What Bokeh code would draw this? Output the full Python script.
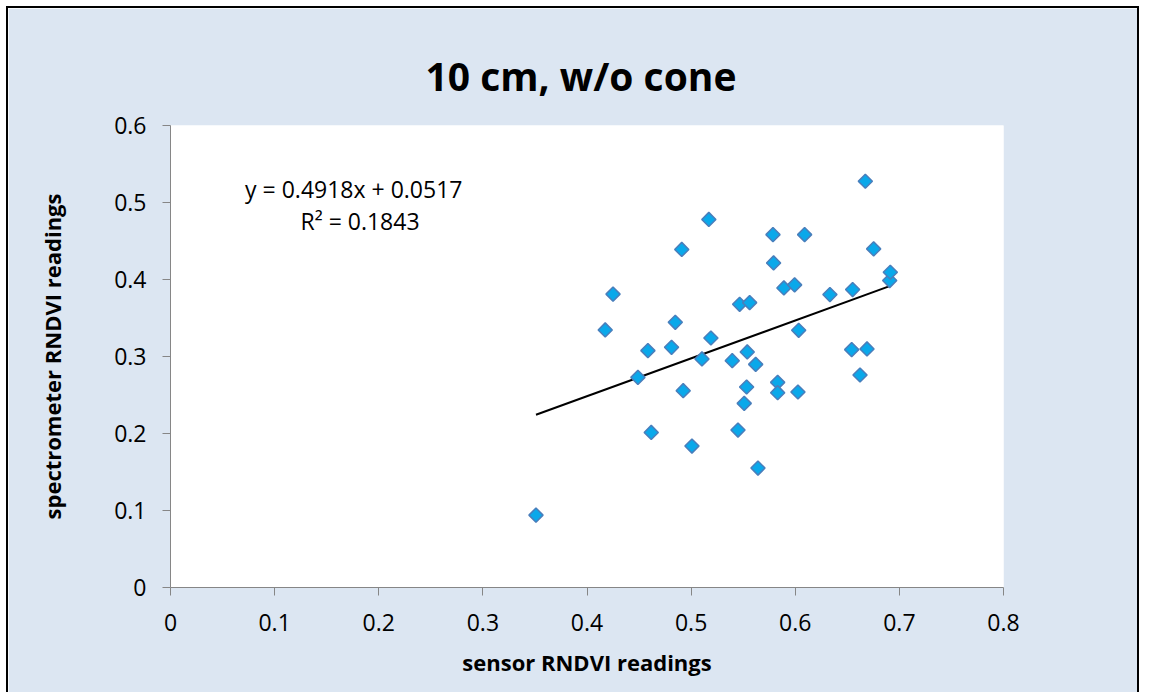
import numpy as np
from bokeh.plotting import figure
from bokeh.models import Range1d, FixedTicker, Label, ColumnDataSource
from bokeh.embed import file_html
from bokeh.resources import INLINE

# ---- data ----
sensor = [0.351, 0.4175, 0.425, 0.4489, 0.4585, 0.4617, 0.4812, 0.4848, 0.491, 0.4924,
          0.5008, 0.5104, 0.517, 0.519, 0.5395, 0.545, 0.5466, 0.551, 0.5533, 0.5539,
          0.5562, 0.562, 0.5642, 0.5786, 0.5792, 0.5831, 0.5831, 0.5891, 0.5994, 0.6026,
          0.6033, 0.609, 0.6333, 0.6542, 0.6551, 0.6622, 0.6673, 0.6689, 0.6753, 0.6907,
          0.6913]
spectrometer = [0.094, 0.3345, 0.381, 0.2729, 0.3076, 0.2014, 0.3119, 0.3444, 0.439, 0.2556,
                0.1837, 0.2968, 0.478, 0.324, 0.2946, 0.2045, 0.3678, 0.2391, 0.2604, 0.3059,
                0.370, 0.2898, 0.1551, 0.4583, 0.4215, 0.2664, 0.253, 0.389, 0.393, 0.2539,
                0.334, 0.4583, 0.3804, 0.3089, 0.3869, 0.276, 0.5276, 0.3098, 0.4398, 0.3986,
                0.4094]

slope = 0.4918
intercept = 0.0517
r_squared = 0.1843

x_ticks = [0, 0.1, 0.2, 0.3, 0.4, 0.5, 0.6, 0.7, 0.8]
x_tick_labels = ["0", "0.1", "0.2", "0.3", "0.4", "0.5", "0.6", "0.7", "0.8"]
y_ticks = [0, 0.1, 0.2, 0.3, 0.4, 0.5, 0.6]
y_tick_labels = ["0", "0.1", "0.2", "0.3", "0.4", "0.5", "0.6"]

title_text = "10 cm, w/o cone"
x_label = "sensor RNDVI readings"
y_label = "spectrometer RNDVI readings"
eq_text = "y = 0.4918x + 0.0517"
r2_text = "R\u00b2 = 0.1843"

FONT = "Open Sans"
AXIS_COLOR = "#868686"

p = figure(width=1133, height=686,
           x_range=Range1d(0, 0.8), y_range=Range1d(0, 0.6),
           output_backend="svg", toolbar_location=None,
           min_border_left=162, min_border_right=138,
           min_border_top=117, min_border_bottom=107,
           background_fill_color="white", border_fill_color="#DCE6F2",
           outline_line_color=None,
           styles={"border-top": "2px solid black", "border-left": "2px solid black",
                   "border-right": "2px solid black", "margin-left": "6px", "margin-top": "6px"})

p.grid.visible = False

p.title.text = title_text
p.title.align = "left"
p.title.offset = 255
p.title.text_font = FONT
p.title.text_font_size = "39px"
p.title.text_font_style = "bold"
p.title.text_color = "black"
p.title.standoff = 48

for ax, ticks, labels in ((p.xaxis[0], x_ticks, x_tick_labels), (p.yaxis[0], y_ticks, y_tick_labels)):
    ax.ticker = FixedTicker(ticks=ticks, minor_ticks=[])
    ax.major_label_overrides = {t: l for t, l in zip(ticks, labels)}
    ax.axis_line_color = AXIS_COLOR
    ax.major_tick_line_color = AXIS_COLOR
    ax.major_tick_in = 0
    ax.major_tick_out = 8
    ax.minor_tick_line_color = None
    ax.major_label_text_font = FONT
    ax.major_label_text_font_size = "23px"
    ax.major_label_text_color = "black"
    ax.axis_label_text_font = FONT
    ax.axis_label_text_font_size = "22px"
    ax.axis_label_text_font_style = "bold"
    ax.axis_label_text_color = "black"

p.xaxis.axis_label = x_label
p.yaxis.axis_label = y_label
p.xaxis.major_label_standoff = 18
p.yaxis.major_label_standoff = 16
p.xaxis.axis_label_standoff = 13
p.yaxis.axis_label_standoff = 44

# trend line from the fitted equation over the data's x extent
xs = np.array([min(sensor), max(sensor)])
p.line(xs, slope * xs + intercept, line_color="black", line_width=2)

src = ColumnDataSource(dict(x=sensor, y=spectrometer))
p.scatter("x", "y", source=src, marker="square", angle=np.pi / 4, size=10,
          fill_color="#0AA8EA", line_color="#4A7EBB", line_width=1.5)

p.add_layout(Label(x=0.176, y=0.518, text=eq_text, text_align="center", text_baseline="middle",
                   text_font=FONT, text_font_size="23px", text_color="black"))
p.add_layout(Label(x=0.182, y=0.4765, text=r2_text, text_align="center", text_baseline="middle",
                   text_font=FONT, text_font_size="23px", text_color="black"))

open("out.html", "w").write(file_html(p, INLINE))
